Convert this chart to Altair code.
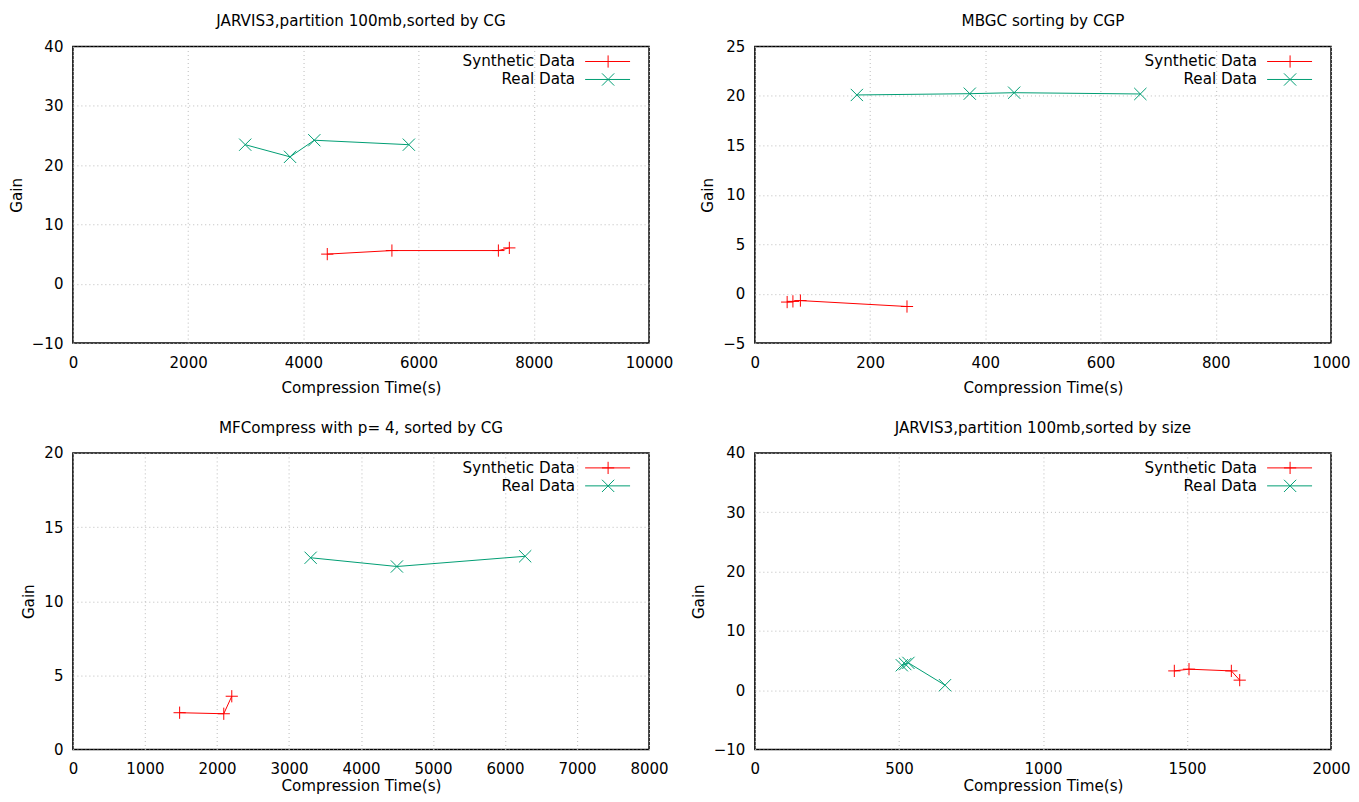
import altair as alt
import pandas as pd

FONT = "DejaVu Sans"
FS = 15.2
TICK_FS = 15
RED = "#ff0000"
GREEN = "#009e73"
PLUS = "M-1,0L1,0M0,-1L0,1"
XSHAPE = "M-1,-1L1,1M-1,1L1,-1"

series_names = ["Synthetic Data", "Real Data"]
series_colors = [RED, GREEN]
series_shapes = [PLUS, XSHAPE]

# Panel 1: JARVIS3, sorted by CG
p1_title = "JARVIS3,partition 100mb,sorted by CG"
p1_syn_x = [4415, 5537, 7385, 7575]
p1_syn_y = [5.0, 5.6, 5.6, 6.05]
p1_real_x = [2991, 3769, 4190, 5831]
p1_real_y = [23.45, 21.4, 24.2, 23.45]
p1_xticks = [0, 2000, 4000, 6000, 8000, 10000]
p1_yticks = [-10, 0, 10, 20, 30, 40]

# Panel 2: MBGC
p2_title = "MBGC sorting by CGP"
p2_syn_x = [56, 66, 79, 264]
p2_syn_y = [-0.85, -0.78, -0.7, -1.3]
p2_real_x = [177, 373, 450, 669]
p2_real_y = [20.1, 20.23, 20.33, 20.2]
p2_xticks = [0, 200, 400, 600, 800, 1000]
p2_yticks = [-5, 0, 5, 10, 15, 20, 25]

# Panel 3: MFCompress
p3_title = "MFCompress with p= 4, sorted by CG"
p3_syn_x = [1482, 2095, 2206]
p3_syn_y = [2.48, 2.41, 3.59]
p3_real_x = [3301, 4499, 6280]
p3_real_y = [12.93, 12.34, 13.03]
p3_xticks = [0, 1000, 2000, 3000, 4000, 5000, 6000, 7000, 8000]
p3_yticks = [0, 5, 10, 15, 20]

# Panel 4: JARVIS3, sorted by size
p4_title = "JARVIS3,partition 100mb,sorted by size"
p4_syn_x = [1456, 1507, 1654, 1683]
p4_syn_y = [3.25, 3.54, 3.25, 1.69]
p4_real_x = [510, 522, 533, 660]
p4_real_y = [4.2, 4.4, 4.6, 0.84]
p4_xticks = [0, 500, 1000, 1500, 2000]
p4_yticks = [-10, 0, 10, 20, 30, 40]

W = 577
H = 297


def legend_layers(w):
    layers = []
    one = pd.DataFrame({"k": [0]})
    for i, (name, color, shape) in enumerate(zip(series_names, series_colors, series_shapes)):
        yy = 15 + 18 * i
        layers.append(
            alt.Chart(one).mark_text(align="right", baseline="middle", font=FONT,
                                     fontSize=FS, color="black", text=name)
            .encode(x=alt.value(w - 74), y=alt.value(yy))
        )
        layers.append(
            alt.Chart(one).mark_rule(color=color, strokeWidth=1)
            .encode(x=alt.value(w - 64), x2=alt.value(w - 19), y=alt.value(yy))
        )
        layers.append(
            alt.Chart(one).mark_point(shape=shape, size=150, color=color, filled=False,
                                      strokeWidth=1, opacity=1)
            .encode(x=alt.value(w - 41), y=alt.value(yy))
        )
    return layers


def panel(title, sx, sy, rx, ry, xticks, yticks, xtitle_pad):
    rows = []
    for name, xs, ys in ((series_names[0], sx, sy), (series_names[1], rx, ry)):
        for i, (a, b) in enumerate(zip(xs, ys)):
            rows.append({"series": name, "i": i, "t": a, "g": b})
    df = pd.DataFrame(rows)
    x = alt.X("t:Q", scale=alt.Scale(domain=[xticks[0], xticks[-1]], nice=False, zero=False),
              axis=alt.Axis(values=xticks, title="Compression Time(s)", format="d",
                            titlePadding=xtitle_pad))
    y = alt.Y("g:Q", scale=alt.Scale(domain=[yticks[0], yticks[-1]], nice=False, zero=False),
              axis=alt.Axis(values=yticks, title="Gain", format="d"))
    color = alt.Color("series:N", scale=alt.Scale(domain=series_names, range=series_colors), legend=None)
    shape = alt.Shape("series:N", scale=alt.Scale(domain=series_names, range=series_shapes), legend=None)
    base = alt.Chart(df)
    line = base.mark_line(strokeWidth=1).encode(x=x, y=y, color=color, detail="series:N", order="i:Q")
    pts = base.mark_point(filled=False, size=150, strokeWidth=1, opacity=1).encode(
        x=x, y=y, color=color, shape=shape)
    return alt.layer(line, pts, *legend_layers(W)).properties(
        width=W, height=H,
        title=alt.TitleParams(title, font=FONT, fontSize=FS, fontWeight="normal",
                              color="black", offset=10, frame="group", anchor="middle"),
    )


p1 = panel(p1_title, p1_syn_x, p1_syn_y, p1_real_x, p1_real_y, p1_xticks, p1_yticks, 10)
p2 = panel(p2_title, p2_syn_x, p2_syn_y, p2_real_x, p2_real_y, p2_xticks, p2_yticks, 10)
p3 = panel(p3_title, p3_syn_x, p3_syn_y, p3_real_x, p3_real_y, p3_xticks, p3_yticks, 2)
p4 = panel(p4_title, p4_syn_x, p4_syn_y, p4_real_x, p4_real_y, p4_xticks, p4_yticks, 2)

chart = alt.concat(p1, p2, p3, p4, columns=2, spacing={"row": 110, "column": 106},
                   bounds="flush").properties(
    padding={"left": 0, "top": 5, "right": 0, "bottom": 0},
    background="white",
).configure_view(
    stroke="black", strokeWidth=1.5
).configure_axis(
    domain=False, ticks=False, tickSize=0, grid=True, gridDash=[1, 3],
    gridColor="#bbbbbb", gridWidth=1, labelFont=FONT, labelFontSize=TICK_FS,
    labelColor="black", titleFont=FONT, titleFontSize=FS, titleFontWeight="normal",
    titleColor="black", labelFlush=False, labelOverlap=False, labelBound=False,
).configure_axisX(
    labelPadding=12
).configure_axisY(
    labelPadding=10, titlePadding=7
)

chart.save("out.html", embed_options={"renderer": "svg", "actions": False})
